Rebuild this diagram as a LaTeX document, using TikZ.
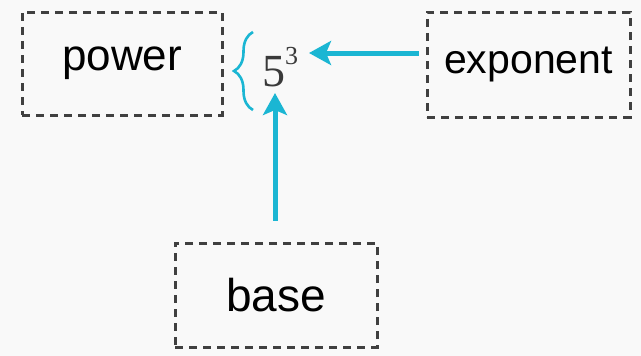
\documentclass[tikz,border=0pt]{standalone}
\usepackage{fontspec}
\setmainfont{Liberation Sans}
\newfontfamily\serifface{Liberation Serif}
\usetikzlibrary{arrows.meta,decorations.pathreplacing}
\definecolor{bgc}{HTML}{F9F9F9}
\definecolor{cyanc}{HTML}{1BB6D3}
\definecolor{boxc}{HTML}{404040}
\definecolor{numc}{HTML}{3A3A3A}
\tikzset{
  dbox/.style={draw=boxc, line width=3pt, dash pattern=on 8pt off 6pt, inner sep=0pt, font=\fontsize{44}{48}\selectfont},
  conn/.style={draw=cyanc, line width=5pt, -{Stealth[length=22pt,width=24pt,inset=5pt]}}
}
\begin{document}
\begin{tikzpicture}[x=1pt,y=-1pt]
\fill[bgc] (0,0) rectangle (641,356);
\useasboundingbox (0,0) rectangle (641,356);
\node[dbox, minimum width=200pt, minimum height=103pt] (power) at (122,63.5) {power};
\node[dbox, minimum width=203pt, minimum height=105pt, font=\fontsize{41}{45}\selectfont] (exponent) at (528.5,64.5) {exponent};
\node[dbox, minimum width=202pt, minimum height=104pt, font=\fontsize{46}{50}\selectfont] (base) at (276,295) {base};
\node[inner sep=0pt, anchor=base west, text=numc, font=\serifface\fontsize{46}{50}\selectfont] (five) at (262,86) {5\raisebox{22pt}{\fontsize{26}{28}\selectfont 3}};
\coordinate (bt) at (253,110);
\coordinate (bb) at (253,32);
\draw[cyanc, line width=2.6pt, decoration={brace, amplitude=19pt}, decorate] (bt) -- (bb);
\coordinate (tipE) at (309,53);
\coordinate (tipB) at (275,93);
\draw[conn, shorten <=7pt] (exponent.west |- tipE) -- (tipE);
\draw[conn, shorten <=21pt] (base.north -| tipB) -- (tipB);
\end{tikzpicture}
\end{document}
